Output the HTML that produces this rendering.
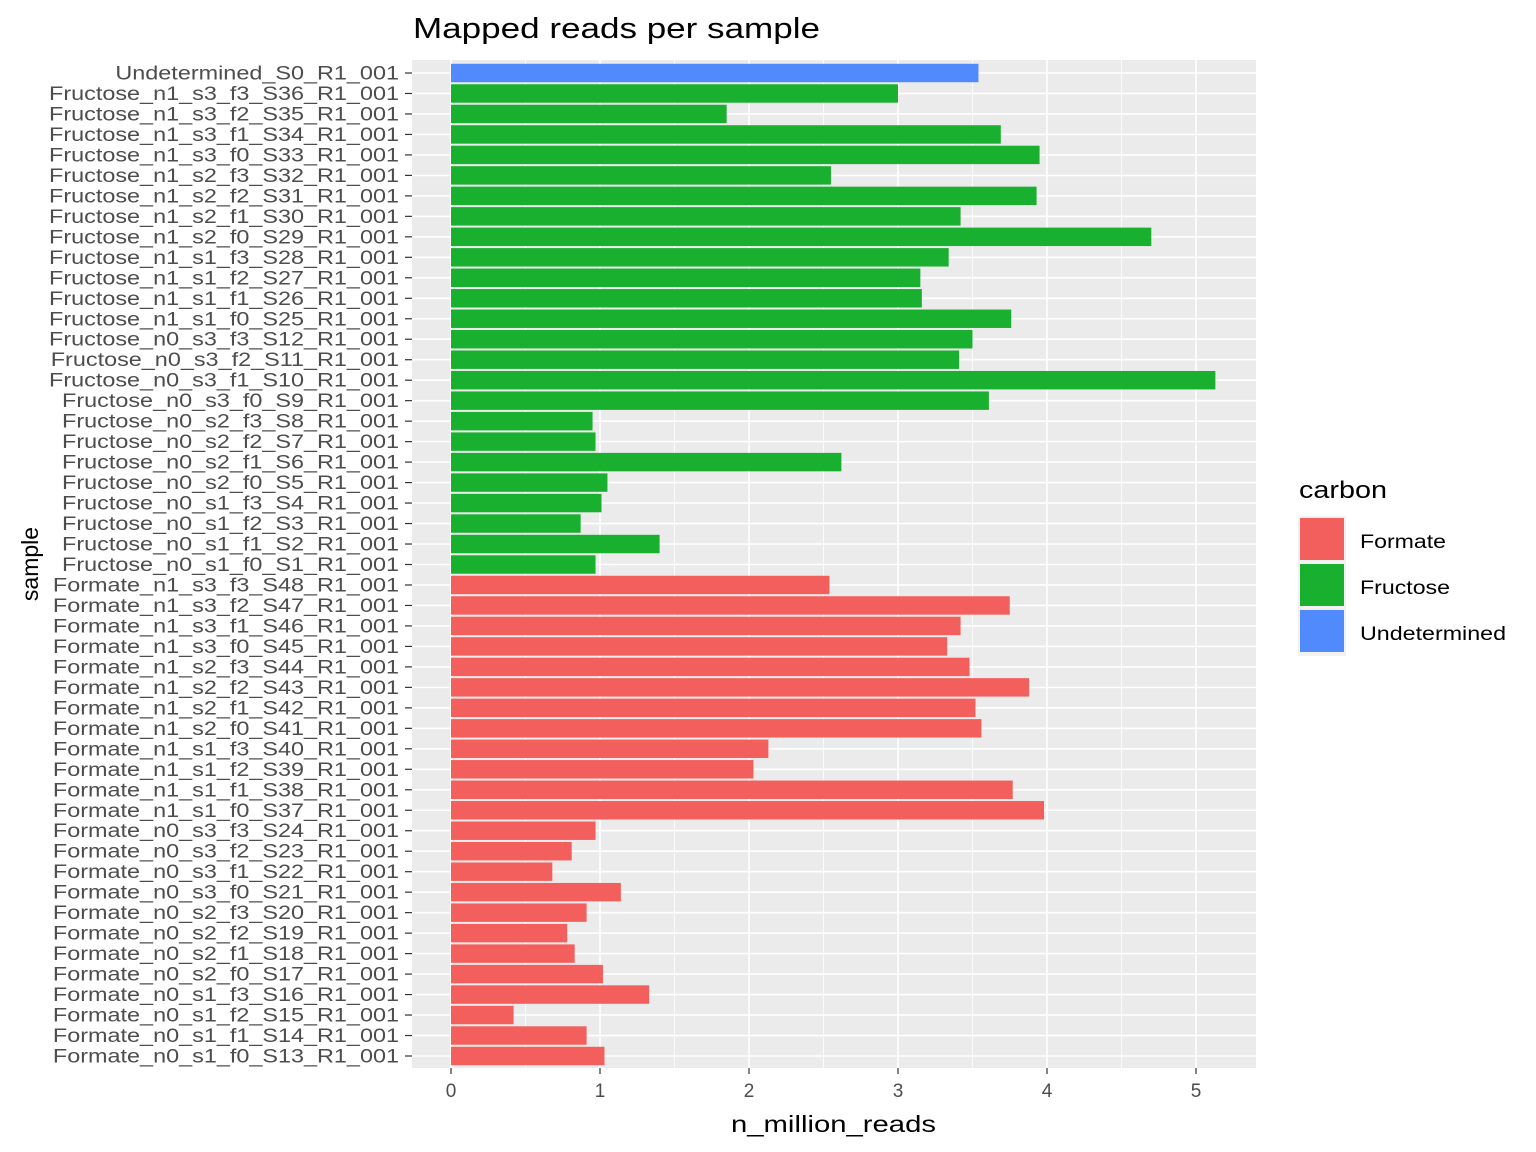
<!DOCTYPE html>
<html><head><meta charset="utf-8"><style>
body{margin:0;background:#fff;}
svg{display:block;font-family:"Liberation Sans",Arial,sans-serif;}
</style></head><body>
<svg id="chart" width="1536" height="1152" xmlns="http://www.w3.org/2000/svg">
<rect width="1536" height="1152" fill="#fff"/>
<text x="413" y="38" font-size="29" fill="#000" textLength="407" lengthAdjust="spacingAndGlyphs">Mapped reads per sample</text>
<rect id="panel" x="412" y="60" width="844" height="1008" fill="#EBEBEB"/>
<g id="grid"></g><g id="bars"></g><g id="yaxis"></g><g id="xaxis"></g>
<text x="731" y="1132" font-size="23" fill="#000" textLength="205" lengthAdjust="spacingAndGlyphs">n_million_reads</text>
<text transform="translate(38,564) rotate(-90)" font-size="23" text-anchor="middle" fill="#000">sample</text>
<g>
<text x="1299" y="498" font-size="24" fill="#000" textLength="88" lengthAdjust="spacingAndGlyphs">carbon</text>
<rect x="1298" y="516" width="48" height="140" fill="#F2F2F2"/>
<g><rect x="1300" y="518" width="44" height="42" fill="#F35F5C"/><text x="1360" y="548" font-size="19" fill="#000" textLength="86" lengthAdjust="spacingAndGlyphs">Formate</text></g>
<g><rect x="1300" y="564" width="44" height="42" fill="#1AB02F"/><text x="1360" y="594" font-size="19" fill="#000" textLength="90" lengthAdjust="spacingAndGlyphs">Fructose</text></g>
<g><rect x="1300" y="610" width="44" height="42" fill="#508AFC"/><text x="1360" y="640" font-size="19" fill="#000" textLength="146" lengthAdjust="spacingAndGlyphs">Undetermined</text></g>
</g>
</svg>
<script>
const samples=["Undetermined_S0_R1_001","Fructose_n1_s3_f3_S36_R1_001","Fructose_n1_s3_f2_S35_R1_001","Fructose_n1_s3_f1_S34_R1_001","Fructose_n1_s3_f0_S33_R1_001","Fructose_n1_s2_f3_S32_R1_001","Fructose_n1_s2_f2_S31_R1_001","Fructose_n1_s2_f1_S30_R1_001","Fructose_n1_s2_f0_S29_R1_001","Fructose_n1_s1_f3_S28_R1_001","Fructose_n1_s1_f2_S27_R1_001","Fructose_n1_s1_f1_S26_R1_001","Fructose_n1_s1_f0_S25_R1_001","Fructose_n0_s3_f3_S12_R1_001","Fructose_n0_s3_f2_S11_R1_001","Fructose_n0_s3_f1_S10_R1_001","Fructose_n0_s3_f0_S9_R1_001","Fructose_n0_s2_f3_S8_R1_001","Fructose_n0_s2_f2_S7_R1_001","Fructose_n0_s2_f1_S6_R1_001","Fructose_n0_s2_f0_S5_R1_001","Fructose_n0_s1_f3_S4_R1_001","Fructose_n0_s1_f2_S3_R1_001","Fructose_n0_s1_f1_S2_R1_001","Fructose_n0_s1_f0_S1_R1_001","Formate_n1_s3_f3_S48_R1_001","Formate_n1_s3_f2_S47_R1_001","Formate_n1_s3_f1_S46_R1_001","Formate_n1_s3_f0_S45_R1_001","Formate_n1_s2_f3_S44_R1_001","Formate_n1_s2_f2_S43_R1_001","Formate_n1_s2_f1_S42_R1_001","Formate_n1_s2_f0_S41_R1_001","Formate_n1_s1_f3_S40_R1_001","Formate_n1_s1_f2_S39_R1_001","Formate_n1_s1_f1_S38_R1_001","Formate_n1_s1_f0_S37_R1_001","Formate_n0_s3_f3_S24_R1_001","Formate_n0_s3_f2_S23_R1_001","Formate_n0_s3_f1_S22_R1_001","Formate_n0_s3_f0_S21_R1_001","Formate_n0_s2_f3_S20_R1_001","Formate_n0_s2_f2_S19_R1_001","Formate_n0_s2_f1_S18_R1_001","Formate_n0_s2_f0_S17_R1_001","Formate_n0_s1_f3_S16_R1_001","Formate_n0_s1_f2_S15_R1_001","Formate_n0_s1_f1_S14_R1_001","Formate_n0_s1_f0_S13_R1_001"];
const reads=[3.54,3.00,1.85,3.69,3.95,2.55,3.93,3.42,4.70,3.34,3.15,3.16,3.76,3.50,3.41,5.13,3.61,0.95,0.97,2.62,1.05,1.01,0.87,1.40,0.97,2.54,3.75,3.42,3.33,3.48,3.88,3.52,3.56,2.13,2.03,3.77,3.98,0.97,0.81,0.68,1.14,0.91,0.78,0.83,1.02,1.33,0.42,0.91,1.03];
const xTicks=[0,1,2,3,4,5];
const colors={Formate:"#F35F5C",Fructose:"#1AB02F",Undetermined:"#508AFC"};
const NS="http://www.w3.org/2000/svg";
const x=v=>451+v*149;
const step=(1056-73)/(samples.length-1);
const y=i=>73+i*step;
function mk(tag,attrs,parent){const e=document.createElementNS(NS,tag);for(const k in attrs)e.setAttribute(k,attrs[k]);parent.appendChild(e);return e;}
const grid=document.getElementById('grid'),bars=document.getElementById('bars'),ya=document.getElementById('yaxis'),xa=document.getElementById('xaxis');
for(let v=0.5;v<5.5;v+=1){const l=mk('line',{x1:x(v),x2:x(v),y1:60,y2:1068,stroke:'#fff','stroke-width':0.8},grid);

}
xTicks.forEach(v=>{const l=mk('line',{x1:x(v),x2:x(v),y1:60,y2:1068,stroke:'#fff','stroke-width':1.6},grid);


const t=mk('line',{x1:x(v),x2:x(v),y1:1068,y2:1074,stroke:'#333','stroke-width':1.2},xa);


const tx=mk('text',{x:x(v),y:1097,'font-size':19,'text-anchor':'middle',fill:'#4D4D4D'},xa);tx.textContent=v;

});
samples.forEach((s,i)=>{const cy=y(i);
const g=mk('line',{x1:412,x2:1256,y1:cy,y2:cy,stroke:'#fff','stroke-width':1.6},grid);


const c=s.split('_')[0];const h=step*0.9;
const b=mk('rect',{x:x(0),y:cy-h/2,width:x(reads[i])-x(0),height:h,fill:colors[c]},bars);


const t=mk('line',{x1:405,x2:412,y1:cy,y2:cy,stroke:'#333','stroke-width':1.2},ya);


const tx=mk('text',{x:399,y:cy+6.5,'font-size':19,'text-anchor':'end',fill:'#4D4D4D'},ya);tx.textContent=s;


const w=tx.getComputedTextLength()*18/19*1.3;
tx.setAttribute('textLength',w);
tx.setAttribute('lengthAdjust','spacingAndGlyphs');});
</script>
</body></html>
